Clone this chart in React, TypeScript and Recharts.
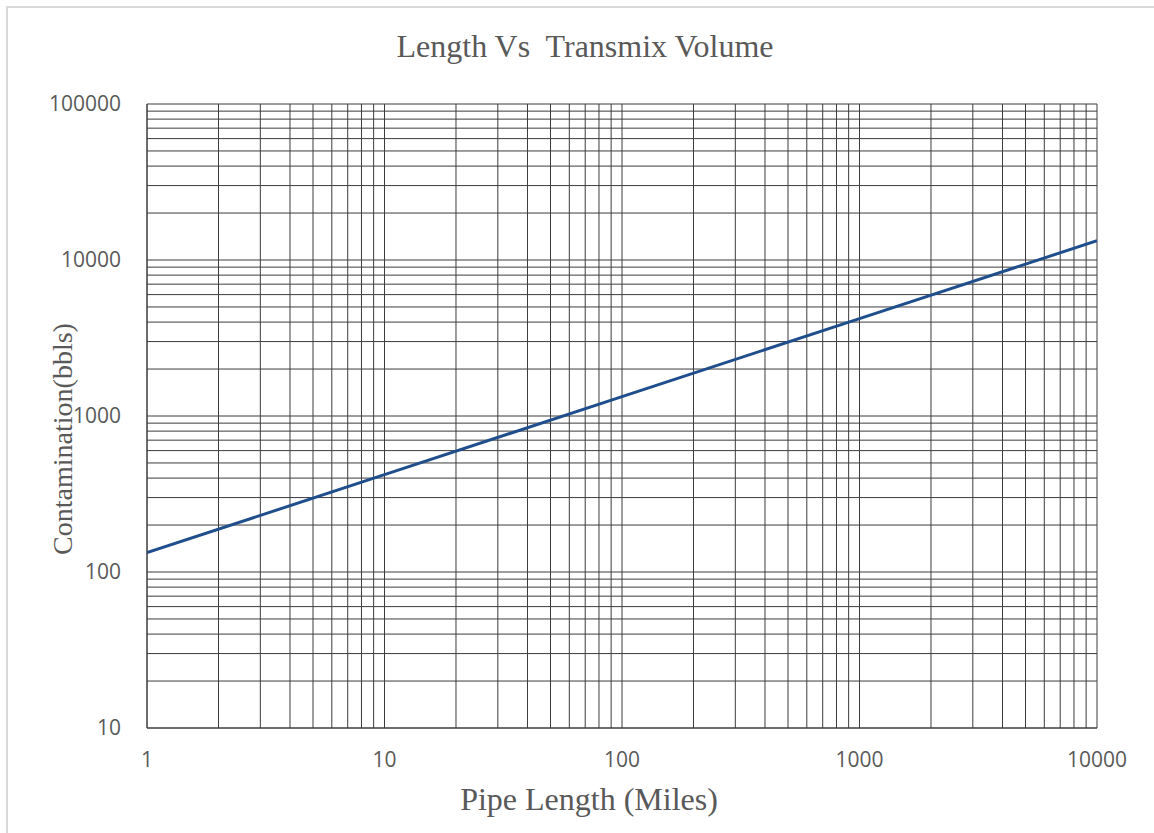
import { CartesianGrid, Line, LineChart, XAxis, YAxis } from "recharts";

// pipe length (miles) vs contamination (bbls)
const pipeLengths = [1, 10, 100, 1000, 10000];
const contamination = [133, 421, 1330, 4206, 13300];

const xTicks = [
  1, 2, 3, 4, 5, 6, 7, 8, 9,
  10, 20, 30, 40, 50, 60, 70, 80, 90,
  100, 200, 300, 400, 500, 600, 700, 800, 900,
  1000, 2000, 3000, 4000, 5000, 6000, 7000, 8000, 9000,
  10000,
];
const yTicks = [
  10, 20, 30, 40, 50, 60, 70, 80, 90,
  100, 200, 300, 400, 500, 600, 700, 800, 900,
  1000, 2000, 3000, 4000, 5000, 6000, 7000, 8000, 9000,
  10000, 20000, 30000, 40000, 50000, 60000, 70000, 80000, 90000,
  100000,
];
const labelledTicks = [1, 10, 100, 1000, 10000, 100000];

const data = pipeLengths.map((length, i) => ({
  length,
  volume: contamination[i],
}));

const decadeLabel = (v: number) =>
  labelledTicks.includes(v) ? String(v) : "";

const tickStyle = {
  fontFamily: "'Open Sans', sans-serif",
  fontSize: 21,
  fill: "#595959",
};
const serif = "'Liberation Serif', 'Times New Roman', serif";

export default function App() {
  return (
    <div
      style={{
        position: "fixed",
        left: 0,
        top: 0,
        width: 1154,
        height: 833,
        overflow: "hidden",
        background: "#fff",
      }}
    >
      <div
        style={{
          position: "absolute",
          left: 6,
          top: 6,
          width: 1200,
          height: 900,
          border: "2px solid #d9d9d9",
        }}
      />
      <svg
        width={1154}
        height={833}
        style={{ position: "absolute", left: 0, top: 0 }}
      >
        <text
          x={585}
          y={57}
          textAnchor="middle"
          fontFamily={serif}
          fontSize={32}
          fill="#595959"
          style={{ whiteSpace: "pre" }}
        >
          {"Length Vs  Transmix Volume"}
        </text>
        <text
          x={589}
          y={810}
          textAnchor="middle"
          fontFamily={serif}
          fontSize={32}
          fill="#595959"
        >
          Pipe Length (Miles)
        </text>
        <text
          x={0}
          y={0}
          transform="translate(72, 439) rotate(-90)"
          textAnchor="middle"
          fontFamily={serif}
          fontSize={28}
          fill="#595959"
        >
          Contamination(bbls)
        </text>
      </svg>
      <div style={{ position: "absolute", left: 0, top: 0 }}>
        <LineChart
          width={1154}
          height={833}
          data={data}
          margin={{ top: 104, right: 57, bottom: 65, left: 67 }}
        >
          <CartesianGrid stroke="#3c3c3c" strokeWidth={1} />
          <XAxis
            dataKey="length"
            type="number"
            scale="log"
            domain={[1, 10000]}
            ticks={xTicks}
            interval={0}
            tickFormatter={decadeLabel}
            tickLine={false}
            axisLine={{ stroke: "#3c3c3c" }}
            tick={tickStyle}
            tickMargin={18}
            height={40}
            allowDataOverflow
          />
          <YAxis
            type="number"
            scale="log"
            domain={[10, 100000]}
            ticks={yTicks}
            interval={0}
            tickFormatter={decadeLabel}
            tickLine={false}
            axisLine={{ stroke: "#3c3c3c" }}
            tick={tickStyle}
            tickMargin={20}
            width={80}
            allowDataOverflow
          />
          <Line
            dataKey="volume"
            stroke="#1f4e8c"
            strokeWidth={3}
            dot={false}
            isAnimationActive={false}
          />
        </LineChart>
      </div>
    </div>
  );
}
